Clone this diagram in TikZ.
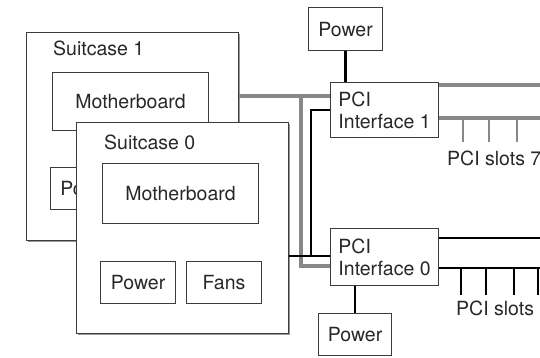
\documentclass[tikz,border=0pt]{standalone}
\usepackage{fontspec}
\setmainfont{TeX Gyre Heros}
\usetikzlibrary{positioning,calc,shadows}
\definecolor{linegray}{RGB}{60,60,60}
\definecolor{textgray}{RGB}{40,40,40}
\definecolor{cablegray}{RGB}{135,135,135}
\newcommand{\partfont}{\fontsize{19.5}{22}\selectfont}
\tikzset{
  casebox/.style={
    draw=linegray,
    fill=white,
    line width=1.3pt,
    anchor=north west,
    inner sep=0pt,
    drop shadow={shadow xshift=0.9pt, shadow yshift=-0.9pt, fill=black!80}
  },
  part/.style={
    draw=linegray,
    fill=white,
    line width=1.1pt,
    anchor=north west,
    align=center,
    inner sep=0pt,
    text=textgray,
    font=\partfont,
    drop shadow={shadow xshift=0.9pt, shadow yshift=-0.9pt, fill=black!80}
  },
  caselabel/.style={anchor=west, inner sep=0pt, text=textgray, font=\partfont},
  gcable/.style={line width=3.4pt, draw=cablegray},
  kcable/.style={line width=2.6pt, draw=black},
  gtap/.style={line width=2.6pt, draw=cablegray},
  ktap/.style={line width=2.6pt, draw=black}
}

\begin{document}
\begin{tikzpicture}[x=1pt, y=-1pt]
    \useasboundingbox (0,0) rectangle (540,358);
    % suitcase 1, mostly hidden behind suitcase 0
    \node[casebox, minimum width=212pt, minimum height=208pt] (s1) at (26,32) {};
    \node[caselabel] (s1lab) at (53,48) {Suitcase 1};
    \node[part, minimum width=156pt, minimum height=58pt] (mb1) at (52,72) {Motherboard};
    \node[part, minimum width=74pt, minimum height=42pt] (pw1) at (50,167) {Power};
    % suitcase 0
    \node[casebox, minimum width=212pt, minimum height=211pt] (s0) at (76,122) {};
    \node[caselabel] (s0lab) at (104,142) {Suitcase 0};
    \node[part, minimum width=156pt, minimum height=60pt] (mb0) at (102,163) {Motherboard};
    \node[part, minimum width=75pt, minimum height=42pt] (pw0) at (100,261) {Power};
    \node[part, minimum width=75pt, minimum height=42pt] (fans0) at (186,261) {Fans};
    % PCI side
    \node[part, align=left, minimum width=108pt, minimum height=55pt] (pci1) at (330,82) {PCI\\Interface 1};
    \node[part, align=left, minimum width=108pt, minimum height=57pt] (pci0) at (330,228) {PCI\\Interface 0};
    \node[part, minimum width=74pt, minimum height=43pt] (pwtop) at (308,7) {Power};
    \node[part, minimum width=73pt, minimum height=42pt] (pwbot) at (318,313) {Power};

    \coordinate (gtop) at (301,96);
    \coordinate (gbot) at (301,266);
    \coordinate (ktop) at (311,110);
    \coordinate (kbot) at (311,256);
    \coordinate (r1a) at (546,85);
    \coordinate (r1b) at (546,118);
    \coordinate (r0a) at (546,238);
    \coordinate (r0b) at (546,268);

    \draw[kcable] (pwtop.south) -- (pwtop.south |- pci1.north);
    \draw[kcable] (pwbot.north) -- (pwbot.north |- pci0.south);
    \draw[gcable] (s1.east |- gtop) -- (pci1.west |- gtop);
    \draw[gcable] (gtop) -- (gbot) -- (pci0.west |- gbot);
    \draw[kcable] (pci1.west |- ktop) -- (ktop) -- (kbot);
    \draw[kcable] (s0.east |- kbot) -- (pci0.west |- kbot);

    \draw[gcable] (pci1.east |- r1a) -- (r1a);
    \draw[gcable] (pci1.east |- r1b) -- (r1b);
    \draw[kcable] (pci0.east |- r0a) -- (r0a);
    \draw[kcable] (pci0.east |- r0b) -- (r0b);
    \foreach \sx in {463,489,517}
      \draw[gtap] (\sx,118) -- (\sx,142);
    \foreach \sx in {461,486,514,538}
      \draw[ktap] (\sx,268) -- (\sx,295);

    \node[caselabel] (slots1) at (447,158) {PCI slots 7};
    \node[caselabel] (slots0) at (456,308) {PCI slots};
\end{tikzpicture}
\end{document}
